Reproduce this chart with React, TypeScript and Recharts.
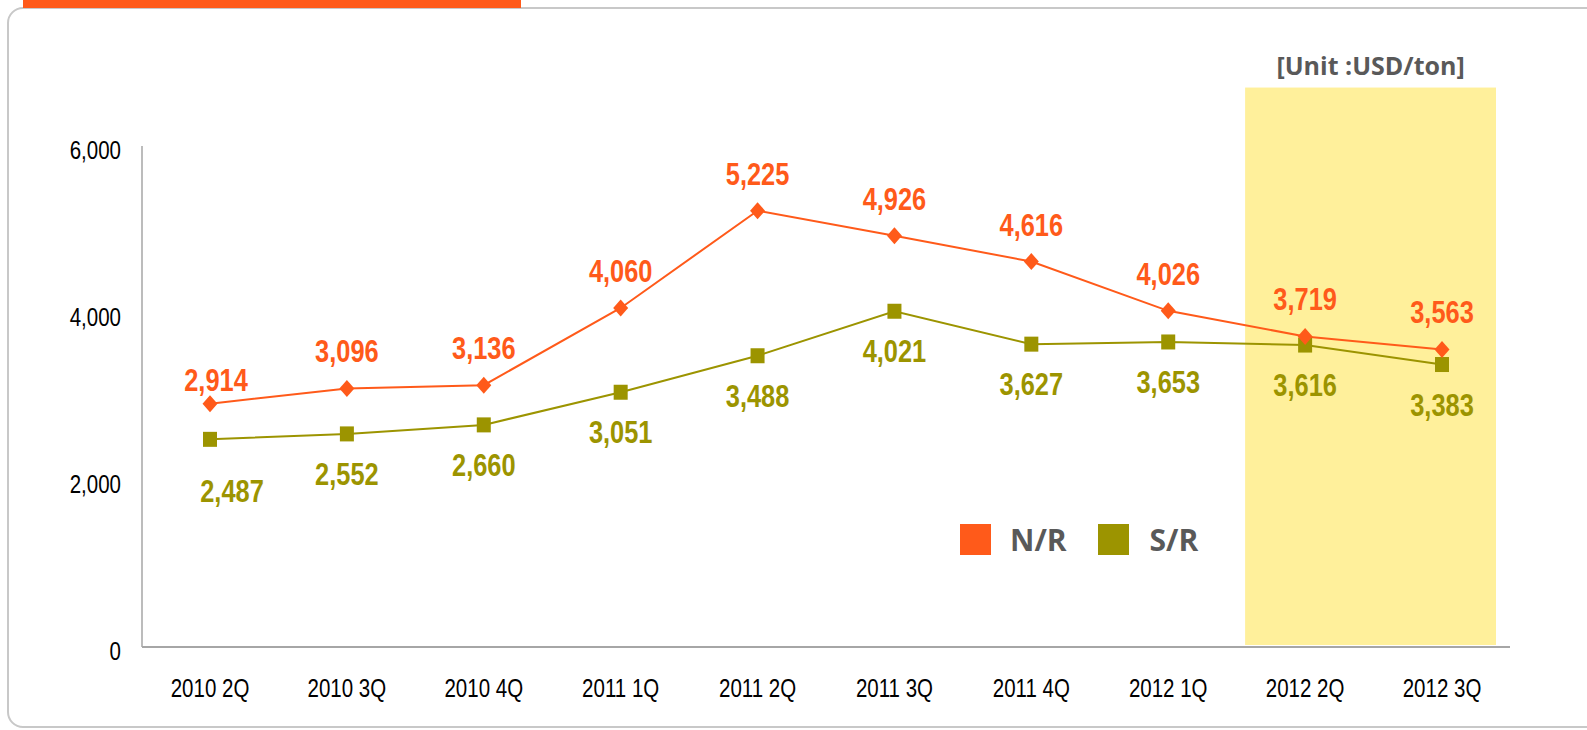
import React from 'react';
import { LineChart, Line, XAxis, YAxis, ReferenceArea, Legend, LabelList } from 'recharts';

const quarters = ['2010 2Q', '2010 3Q', '2010 4Q', '2011 1Q', '2011 2Q', '2011 3Q', '2011 4Q', '2012 1Q', '2012 2Q', '2012 3Q'];
const nrPrices = [2914, 3096, 3136, 4060, 5225, 4926, 4616, 4026, 3719, 3563];
const srPrices = [2487, 2552, 2660, 3051, 3488, 4021, 3627, 3653, 3616, 3383];
const yTicks = [0, 2000, 4000, 6000];
const highlightFrom = '2012 2Q';
const highlightTo = '2012 3Q';

const ORANGE = '#FF5A1A';
const OLIVE = '#9C9400';
const GRAY_TEXT = '#595959';
// no Arial Narrow here, so squeeze Liberation Sans horizontally
const NARROW = "'Liberation Sans', Arial, sans-serif";
const SQUEEZE = 0.82;
const SANS = "'Open Sans', 'Noto Sans', sans-serif";

const data = quarters.map((q, i) => ({ quarter: q, nr: nrPrices[i], sr: srPrices[i] }));

const NarrowText = ({ x, y, anchor, size, color, bold, children }: any) => (
  <g transform={`translate(${x},${y}) scale(${SQUEEZE},1)`}>
    <text x={0} y={0} textAnchor={anchor} fontFamily={NARROW} fontSize={size} fontWeight={bold ? 'bold' : 'normal'} fill={color}>
      {children}
    </text>
  </g>
);

const XTick = (props: any) => {
  const { x, y, payload } = props;
  return <NarrowText x={x} y={y + 50} anchor="middle" size={25} color="#000">{payload.value}</NarrowText>;
};

const YTick = (props: any) => {
  const { x, y, payload } = props;
  return <NarrowText x={x} y={y + 13} anchor="end" size={25} color="#000">{payload.value.toLocaleString('en-US')}</NarrowText>;
};

const Diamond = (props: any) => {
  const { cx, cy } = props;
  if (cx == null || cy == null) return null;
  return <polygon points={`${cx},${cy - 8.5} ${cx + 7.5},${cy} ${cx},${cy + 8.5} ${cx - 7.5},${cy}`} fill={ORANGE} />;
};

const Square = (props: any) => {
  const { cx, cy } = props;
  if (cx == null || cy == null) return null;
  return <rect x={cx - 7} y={cy - 7.5} width={14} height={15} fill={OLIVE} />;
};

const makeLabel = (color: string, above: boolean) => (props: any) => {
  const { value, index } = props;
  const px = props.x ?? props.viewBox?.x;
  const py = props.y ?? props.viewBox?.y;
  if (px == null || py == null) return null;
  let dx = 0;
  let dy = above ? -26 : 51;
  if (index === 0) {
    dx = above ? 6 : 22;
    dy = above ? -13 : 63;
  }
  return (
    <NarrowText x={px + dx} y={py + dy} anchor="middle" size={31} color={color} bold>
      {Number(value).toLocaleString('en-US')}
    </NarrowText>
  );
};

const LegendContent = () => (
  <div style={{ display: 'flex', alignItems: 'center', fontFamily: SANS, fontWeight: 700, fontSize: 30, color: GRAY_TEXT }}>
    <span style={{ width: 31, height: 31, background: ORANGE, display: 'inline-block' }} />
    <span style={{ marginLeft: 19, lineHeight: '31px' }}>N/R</span>
    <span style={{ width: 31, height: 31, background: OLIVE, display: 'inline-block', marginLeft: 31 }} />
    <span style={{ marginLeft: 21, lineHeight: '31px' }}>S/R</span>
  </div>
);

// the shaded block reaches a bit past the two quarter points on each side
const Highlight = (props: any) => {
  const { x, y, width, height } = props;
  return <rect x={x - 60} y={y} width={width + 114} height={height - 2} fill="#FFF09B" />;
};

const UnitLabel = (props: any) => {
  const vb = props.viewBox || {};
  return (
    <text x={vb.x - 60 + (vb.width + 114) / 2} y={vb.y - 13} textAnchor="middle" fontFamily={SANS} fontWeight={700} fontSize={25} fill={GRAY_TEXT}>
      [Unit :USD/ton]
    </text>
  );
};

export default function App() {
  return (
    <div style={{ position: 'fixed', left: 0, top: 0, width: 1587, height: 730, overflow: 'hidden', background: '#fff' }}>
      <div style={{ position: 'absolute', left: 7, top: 7, width: 1640, height: 717, border: '2px solid #c8c8c8', borderRadius: 16 }} />
      <div style={{ position: 'absolute', left: 23, top: 0, width: 498, height: 8, background: ORANGE }} />
      <div style={{ position: 'absolute', left: 0, top: 0 }}>
        <LineChart width={1587} height={730} data={data} margin={{ top: 146, right: 77, left: 0, bottom: 0 }}>
          <ReferenceArea
            x1={highlightFrom}
            x2={highlightTo}
            y1={0}
            y2={6700}
            ifOverflow="visible"
            shape={Highlight}
            label={UnitLabel}
          />
          <XAxis
            dataKey="quarter"
            height={83}
            padding={{ left: 68, right: 68 }}
            tickSize={0}
            tickMargin={0}
            tickLine={false}
            tick={XTick}
            axisLine={{ stroke: '#a6a6a6', strokeWidth: 2 }}
            interval={0}
          />
          <YAxis
            width={142}
            domain={[0, 6000]}
            ticks={yTicks}
            tickSize={0}
            tickMargin={21}
            tickLine={false}
            tick={YTick}
            axisLine={{ stroke: '#a6a6a6', strokeWidth: 1.5 }}
          />
          <Legend
            layout="vertical"
            verticalAlign="middle"
            align="center"
            content={LegendContent}
            wrapperStyle={{ left: 960, top: 524, width: 300, height: 31 }}
          />
          <Line dataKey="sr" name="S/R" stroke={OLIVE} strokeWidth={2} dot={Square} activeDot={false} isAnimationActive={false}>
            <LabelList dataKey="sr" content={makeLabel(OLIVE, false)} />
          </Line>
          <Line dataKey="nr" name="N/R" stroke={ORANGE} strokeWidth={2} dot={Diamond} activeDot={false} isAnimationActive={false}>
            <LabelList dataKey="nr" content={makeLabel(ORANGE, true)} />
          </Line>
        </LineChart>
      </div>
    </div>
  );
}
